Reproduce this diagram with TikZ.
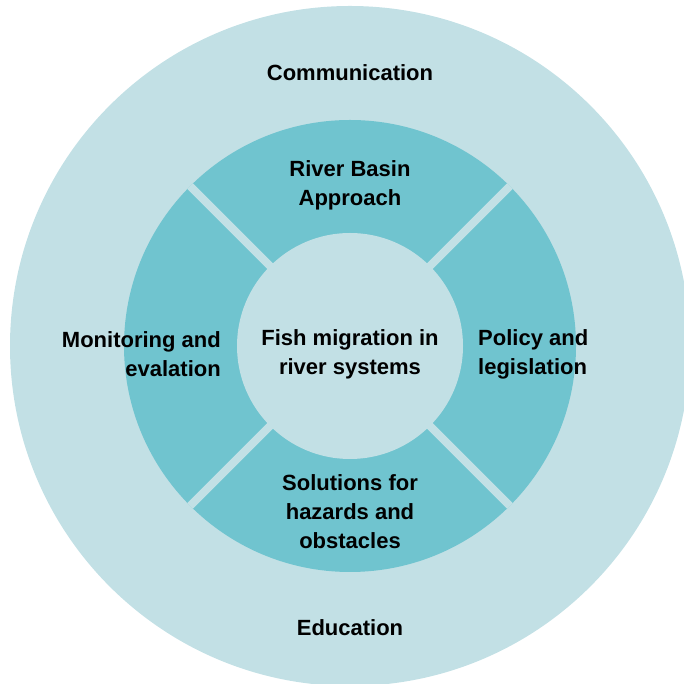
\documentclass[tikz,border=0pt]{standalone}
\usepackage{fontspec}
\setmainfont{Liberation Sans}
\definecolor{paleteal}{HTML}{C2E0E5}
\definecolor{ringteal}{HTML}{70C4CF}
\tikzset{
  disc/.style={circle, inner sep=0pt, minimum size=#1},
  caption/.style={font=\bfseries\fontsize{22}{29}\selectfont, text=black, inner sep=0pt}
}

\begin{document}
\begin{tikzpicture}[x=1pt,y=1pt]
\useasboundingbox (0,0) rectangle (683,684);
\node[disc=680pt, fill=paleteal] (outer) at (350,338) {};
\node[disc=452pt, fill=ringteal] (ring) at (350,338) {};
\foreach \a in {45,135,225,315}
  \draw[paleteal, line width=8pt] (ring.center) -- (ring.\a);
\node[disc=226pt, fill=paleteal] (hub) at (350,338) {};
% labels
\node[caption] (communication) at (350,611) {Communication};
\node[caption, align=center] (basin) at (350,499) {River Basin\\Approach};
\node[caption, align=right, anchor=east] (monitoring) at (221,330) {Monitoring and\\evalation};
\node[caption, align=center] (fish) at (350,330) {Fish migration in\\river systems};
\node[caption, align=left, anchor=west] (policy) at (478,330) {Policy and\\legislation};
\node[caption, align=center] (solutions) at (350,172) {Solutions for\\hazards and\\obstacles};
\node[caption] (education) at (350,56) {Education};
\end{tikzpicture}
\end{document}
